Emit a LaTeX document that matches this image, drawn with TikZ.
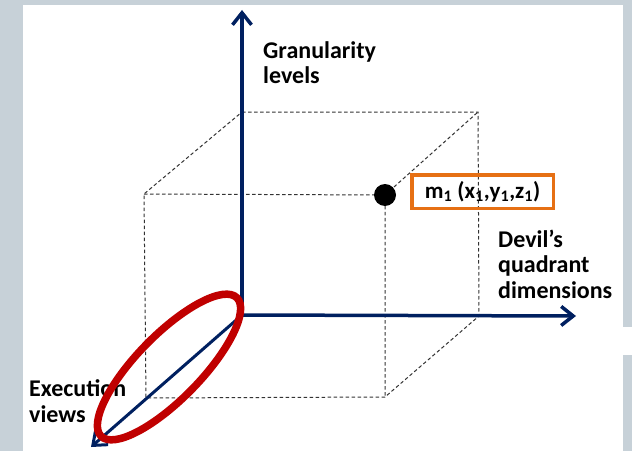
\documentclass[tikz,border=0pt]{standalone}
\usepackage{fontspec}
\setmainfont{Carlito}
\usetikzlibrary{arrows.meta}
\definecolor{axisblue}{RGB}{0,32,96}
\definecolor{ringred}{RGB}{192,0,0}
\definecolor{boxorange}{RGB}{230,112,20}
\definecolor{slidegrey}{RGB}{199,209,216}
\begin{document}
\begin{tikzpicture}[
    x=1pt, y=1pt,
    axis/.style={-{Straight Barb[length=12pt, width=19pt]}, line width=3.5pt, draw=axisblue},
    cubeedge/.style={draw=black!80, line width=1pt, dash pattern=on 3.5pt off 2.5pt},
    axislabel/.style={font=\bfseries\fontsize{24}{25.5}\selectfont, align=left, anchor=base west, inner sep=0pt},
    dot/.style={circle, fill=black, minimum size=22pt, inner sep=0pt},
    pointbox/.style={draw=boxorange, line width=3.5pt, minimum width=141.5pt, minimum height=33.5pt, inner sep=0pt, font=\bfseries\fontsize{23}{25}\selectfont},
    ring/.style={draw=ringred, line width=7.5pt}
]
% Slide background
\fill[slidegrey] (0,0) rectangle (632,451);
\fill[white] (23,0) rectangle (623,446);
\fill[white] (623,96) rectangle (632,124);

% Cube corners
\coordinate (O) at (242,136);
\coordinate (backTL) at (242,339);
\coordinate (backTR) at (478,339);
\coordinate (backBR) at (479,135);
\coordinate (frontTL) at (144,257);
\coordinate (frontTR) at (385,256);
\coordinate (frontBL) at (146,53);
\coordinate (frontBR) at (385,54);

% Axis ends
\coordinate (zEnd) at (242,441);
\coordinate (yEnd) at (576,135);
\coordinate (xEnd) at (91,4);

% Dashed cube
\draw[cubeedge] (backTL) -- (backTR) -- (backBR) -- (frontBR) -- (frontBL) -- (frontTL) -- (backTL);
\draw[cubeedge] (frontTL) -- (frontTR) -- (frontBR);
\draw[cubeedge] (frontTR) -- (backTR);

% Axes
\draw[axis] (O) -- (zEnd);
\draw[axis] (O) -- (yEnd);
\draw[axis, line width=3pt] (O) -- (xEnd);

% Axis labels (base = last line)
\node[axislabel] (granLabel) at (263,367) {Granularity\\levels};
\node[axislabel] (devilLabel) at (498,153) {Devil’s\\quadrant\\dimensions};
\node[axislabel] (execLabel) at (29,29) {Execution\\views};

% Point m1
\node[dot] (m1) at (frontTR) {};
\node[pointbox] (m1box) at (482.5,259.5) {m\textsubscript{1} (x\textsubscript{1},y\textsubscript{1},z\textsubscript{1})};

% Highlight ring
\draw[ring, rotate around={45.6:(169,84)}] (169,84) ellipse [x radius=97, y radius=32];
\end{tikzpicture}
\end{document}
